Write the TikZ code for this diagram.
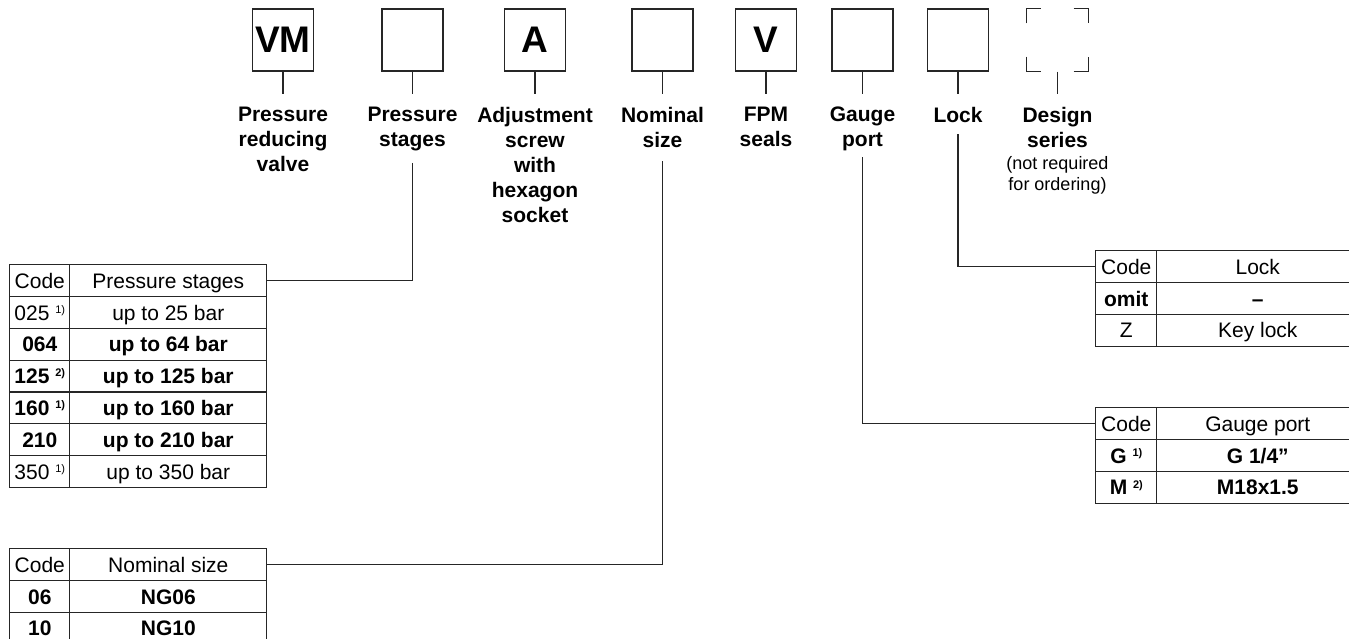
\documentclass[tikz,border=0pt]{standalone}
\usepackage{fontspec}
\setmainfont{Liberation Sans}
\usetikzlibrary{positioning,matrix}

\definecolor{ink}{HTML}{262626}
\newcommand{\supnote}[1]{\raisebox{0.6ex}{\fontsize{11}{11}\selectfont #1}}

\tikzset{
  codebox/.style={draw=ink, line width=1.2pt, minimum width=61pt, minimum height=62pt,
    inner sep=0pt, font=\fontsize{37}{37}\selectfont\bfseries},
  lbl/.style={align=center, inner sep=0pt, font=\fontsize{21}{25}\selectfont\bfseries},
  note/.style={align=center, inner sep=0pt, font=\fontsize{18}{21}\selectfont},
  conn/.style={draw=ink, line width=1.2pt},
  codetab/.style={matrix of nodes, inner sep=0pt, column sep=-1.2pt, row sep=-1.2pt,
    nodes={draw=ink, line width=1.2pt, anchor=center, minimum height=31.8pt, inner sep=1pt,
      text height=18pt, text depth=3pt, font=\fontsize{21}{21}\selectfont}},
}

\begin{document}
\begin{tikzpicture}[x=1pt, y=-1pt]
\useasboundingbox (0,0) rectangle (1349,639);

% type code boxes
\node[codebox] (vm)  at (283,40)    {VM};
\node[codebox] (ps)  at (412.5,40)  {};
\node[codebox] (adj) at (535,40)    {A};
\node[codebox] (ns)  at (662.5,40)  {};
\node[codebox] (fpm) at (766,40)    {V};
\node[codebox] (gp)  at (862.5,40)  {};
\node[codebox] (lk)  at (958,40)    {};
\node[codebox, draw=none] (ds) at (1057.5,40) {};

% design series box, corners only
\draw[conn] ([yshift=-15pt]ds.north west) |- ([xshift=15pt]ds.north west);
\draw[conn] ([xshift=-15pt]ds.north east) -| ([yshift=-15pt]ds.north east);
\draw[conn] ([yshift=15pt]ds.south west) |- ([xshift=15pt]ds.south west);
\draw[conn] ([xshift=-15pt]ds.south east) -| ([yshift=15pt]ds.south east);

\foreach \n in {vm,ps,adj,ns,fpm,gp,lk,ds}
  \draw[conn] (\n.south) -- ++(0,22);

% labels
\node[lbl, below=35pt of vm]  (vmlbl)  {Pressure\\reducing\\valve};
\node[lbl, below=35pt of ps]  (pslbl)  {Pressure\\stages};
\node[lbl, below=35pt of adj] (adjlbl) {Adjustment\\screw\\with\\hexagon\\socket};
\node[lbl, below=35pt of ns]  (nslbl)  {Nominal\\size};
\node[lbl, below=35pt of fpm] (fpmlbl) {FPM\\seals};
\node[lbl, below=35pt of gp]  (gplbl)  {Gauge\\port};
\node[lbl, below=35pt of lk]  (lklbl)  {Lock};
\node[lbl, below=35pt of ds]  (dslbl)  {Design\\series};
\node[note, below=9pt of dslbl] (dsnote) {(not required\\for ordering)};

% tables
\matrix[codetab, anchor=north west,
  column 1/.style={nodes={minimum width=60pt}},
  column 2/.style={nodes={minimum width=197pt}}] (pstab) at (9,264) {
  Code & Pressure stages \\
  025 \supnote{1)} & up to 25 bar \\
  \textbf{064} & \textbf{up to 64 bar} \\
  \textbf{125 \supnote{2)}} & \textbf{up to 125 bar} \\
  \textbf{160 \supnote{1)}} & \textbf{up to 160 bar} \\
  \textbf{210} & \textbf{up to 210 bar} \\
  350 \supnote{1)} & up to 350 bar \\
};

\matrix[codetab, anchor=north west,
  column 1/.style={nodes={minimum width=60pt}},
  column 2/.style={nodes={minimum width=197pt}}] (nstab) at (9,548) {
  Code & Nominal size \\
  \textbf{06} & \textbf{NG06} \\
  \textbf{10} & \textbf{NG10} \\
};

\matrix[codetab, anchor=north west,
  column 1/.style={nodes={minimum width=61pt}},
  column 2/.style={nodes={minimum width=202pt}}] (lktab) at (1095,250) {
  Code & Lock \\
  \textbf{omit} & \textbf{–} \\
  Z & Key lock \\
};

\matrix[codetab, anchor=north west,
  column 1/.style={nodes={minimum width=61pt}},
  column 2/.style={nodes={minimum width=202pt}}] (gptab) at (1095,407) {
  Code & Gauge port \\
  \textbf{G \supnote{1)}} & \textbf{G 1/4”} \\
  \textbf{M \supnote{2)}} & \textbf{M18x1.5} \\
};

% connectors
\draw[conn] ([yshift=-12pt]pslbl.south) |- (pstab-1-2.east);
\draw[conn] ([yshift=-14pt]nslbl.south) |- (nstab-1-2.east);
\draw[conn] ([yshift=-6pt]gplbl.south) |- (gptab-1-1.west);
\draw[conn] ([yshift=-12pt]lklbl.south) |- (lktab-1-1.west);
\end{tikzpicture}
\end{document}
